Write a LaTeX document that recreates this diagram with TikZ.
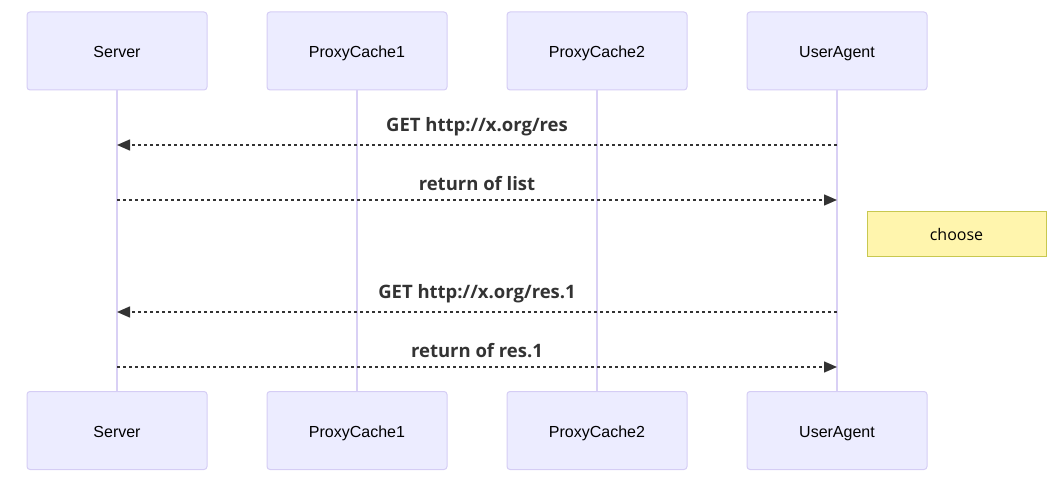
\documentclass[tikz,border=0pt]{standalone}
\usepackage{fontspec}
\setmainfont{Liberation Sans}
\newfontfamily\msgfont{Open Sans}
\usetikzlibrary{arrows.meta}
\definecolor{actorfill}{HTML}{ECECFF}
\definecolor{actorline}{HTML}{D5CDF5}
\definecolor{lifeline}{HTML}{D9D0F5}
\definecolor{notefill}{HTML}{FFF5AD}
\definecolor{noteline}{HTML}{C8C850}
\definecolor{msgline}{HTML}{333333}

\begin{document}
\begin{tikzpicture}[x=1pt, y=-1pt,
actor/.style={draw=actorline, fill=actorfill, line width=1pt, rounded corners=3pt,
	minimum width=180pt, minimum height=78pt, text height=15pt, text depth=2pt,
	font=\fontsize{16}{19}\selectfont},
life/.style={draw=lifeline, line width=2pt},
msg/.style={draw=msgline, line width=1.5pt, dash pattern=on 3pt off 3pt,
	-{Triangle[length=13pt, width=11pt]}},
msglabel/.style={above=5pt, text=msgline, font=\msgfont\bfseries\fontsize{18.5}{21}\selectfont},
note/.style={draw=noteline, fill=notefill, line width=1pt,
	minimum width=179pt, minimum height=45pt, font=\msgfont\fontsize{16}{19}\selectfont}]
\useasboundingbox (0,0) rectangle (1063,481);

% actors, top and bottom
\node[actor] (serverTop) at (117,51) {Server};
\node[actor] (proxyOneTop) at (357,51) {ProxyCache1};
\node[actor] (proxyTwoTop) at (597,51) {ProxyCache2};
\node[actor] (agentTop) at (837,51) {UserAgent};
\node[actor] (serverBot) at (117,430.5) {Server};
\node[actor] (proxyOneBot) at (357,430.5) {ProxyCache1};
\node[actor] (proxyTwoBot) at (597,430.5) {ProxyCache2};
\node[actor] (agentBot) at (837,430.5) {UserAgent};

% lifelines
\draw[life] (serverTop) -- (serverBot);
\draw[life] (proxyOneTop) -- (proxyOneBot);
\draw[life] (proxyTwoTop) -- (proxyTwoBot);
\draw[life] (agentTop) -- (agentBot);

% message ends
\coordinate (getA) at (837,145);
\coordinate (srvA) at (117,145);
\coordinate (srvB) at (117,200);
\coordinate (retB) at (837,200);
\coordinate (getC) at (837,312);
\coordinate (srvC) at (117,312);
\coordinate (srvD) at (117,367);
\coordinate (retD) at (837,367);

% messages
\draw[msg] (getA) -- node[msglabel] {GET http://x.org/res} (srvA);
\draw[msg] (srvB) -- node[msglabel] {return of list} (retB);
\draw[msg] (getC) -- node[msglabel] {GET http://x.org/res.1} (srvC);
\draw[msg] (srvD) -- node[msglabel] {return of res.1} (retD);

% note
\node[note] (chooseNote) at (956.5,234.5) {choose};
\end{tikzpicture}
\end{document}
